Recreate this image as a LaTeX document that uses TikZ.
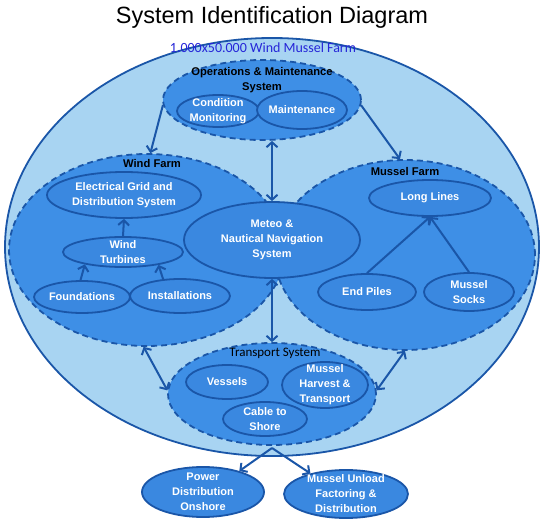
\documentclass[tikz,border=0pt]{standalone}
\usepackage{fontspec}
\setmainfont{Liberation Sans}
\newfontfamily\carl{Carlito}
\usetikzlibrary{shapes.geometric,arrows.meta}
\definecolor{outerfill}{HTML}{A8D4F2}
\definecolor{midfill}{HTML}{3E8FE6}
\definecolor{subfill}{HTML}{3A88E0}
\definecolor{edgeblue}{HTML}{1A56A8}
\definecolor{labelblue}{HTML}{2626D8}
\tikzset{
  container/.style={ellipse, draw=edgeblue, line width=1.8pt, dash pattern=on 6pt off 4pt, fill=midfill, inner sep=0pt},
  subell/.style={ellipse, draw=edgeblue, line width=1.8pt, fill=subfill, inner sep=0pt},
  lbl/.style={text=white, font=\fontsize{11}{15}\selectfont\bfseries, align=center, inner sep=0pt},
  hdr/.style={text=black, font=\fontsize{11.2}{15.5}\selectfont\bfseries, align=center, inner sep=0pt},
  arr/.style={draw=edgeblue, line width=2pt, -{Straight Barb[length=5pt,width=11pt]}},
  darr/.style={draw=edgeblue, line width=2pt, {Straight Barb[length=5pt,width=11pt]}-{Straight Barb[length=5pt,width=11pt]}},
}
\begin{document}
\begin{tikzpicture}[x=1pt,y=-1pt]
\useasboundingbox (0,0) rectangle (544,524);
\fill[white] (0,0) rectangle (544,524);
\node[font=\fontsize{23.5}{26}\selectfont, inner sep=0pt] (title) at (272,17) {System Identification Diagram};
% outer
\node[ellipse, draw=edgeblue, line width=1.8pt, fill=outerfill, minimum width=534pt, minimum height=418pt, inner sep=0pt] (outer) at (272,247) {};
\node[text=labelblue, font=\carl\fontsize{14}{16}\selectfont, inner sep=0pt] (farmlbl) at (263,48) {1.000x50.000 Wind Mussel Farm};
% containers
\node[container, minimum width=198pt, minimum height=80pt] (om) at (262,100) {};
\node[hdr] (omlbl) at (262,80) {Operations \& Maintenance\\System};
\node[container, minimum width=276pt, minimum height=192pt] (wf) at (147,250) {};
\node[hdr] (wflbl) at (152,163) {Wind Farm};
\node[container, minimum width=260pt, minimum height=190pt] (mf) at (405,255) {};
\node[hdr] (mflbl) at (405,171) {Mussel Farm};
\node[container, minimum width=208pt, minimum height=102pt] (tr) at (272,394) {};
\node[text=black, font=\carl\fontsize{13}{15}\selectfont, inner sep=0pt] (trlbl) at (275,353) {Transport System};
% O&M subs
\node[subell, minimum width=82pt, minimum height=32pt, label={[lbl]center:{Condition\\Monitoring}}] (cm) at (218,111) {};
\node[subell, minimum width=90pt, minimum height=38pt, label={[lbl]center:{Maintenance}}] (mt) at (302,110) {};
% Wind farm subs
\node[subell, minimum width=154pt, minimum height=46pt, label={[lbl]center:{Electrical Grid and\\Distribution System}}] (eg) at (124,195) {};
\node[subell, minimum width=120pt, minimum height=30pt, label={[lbl]center:{Wind\\Turbines}}] (wt) at (123,252) {};
\node[subell, minimum width=96pt, minimum height=32pt, label={[lbl]center:{Foundations}}] (fo) at (82,297) {};
\node[subell, minimum width=100pt, minimum height=34pt, label={[lbl]center:{Installations}}] (in) at (180,296) {};
% Mussel farm subs
\node[subell, minimum width=122pt, minimum height=36pt, label={[lbl]center:{Long Lines}}] (ll) at (430,198) {};
\node[subell, minimum width=98pt, minimum height=36pt, label={[lbl]center:{End Piles}}] (ep) at (367,292) {};
\node[subell, minimum width=90pt, minimum height=38pt, label={[lbl]center:{Mussel\\Socks}}] (ms) at (469,292) {};
% Meteo
\node[subell, minimum width=176pt, minimum height=76pt, label={[lbl]center:{Meteo \&\\Nautical Navigation\\System}}] (met) at (272,240) {};
% Transport subs
\node[subell, minimum width=82pt, minimum height=34pt, label={[lbl]center:{Vessels}}] (ve) at (227,382) {};
\node[subell, minimum width=86pt, minimum height=46pt, label={[lbl]center:{Mussel\\Harvest \&\\Transport}}] (mh) at (325,385) {};
\node[subell, minimum width=84pt, minimum height=34pt, label={[lbl]center:{Cable to\\Shore}}] (cs) at (265,419) {};
% Onshore
\node[subell, minimum width=122pt, minimum height=50pt, label={[lbl]center:{Power\\Distribution\\Onshore}}] (pd) at (203,492) {};
\node[subell, minimum width=124pt, minimum height=48pt, label={[lbl]center:{Mussel Unload\\Factoring \&\\Distribution}}] (mu) at (346,494) {};
% arrows
\draw[arr] (om.183) -- (wf.88);
\draw[arr] (om.357) -- (mf.93);
\draw[darr] (met.north) -- (met.north |- om.south);
\draw[darr] (met.south) -- (tr.north);
\draw[darr] (wf.268) -- (tr.178);
\draw[darr] (mf.270) -- (tr.2);
\draw[arr] (wt.north) -- (eg.south);
\draw[arr] (fo.95) -- (wt.198);
\draw[arr] (in.135) -- (wt.340);
\draw[arr] (ep.north) -- (ll.south);
\draw[arr] (ms.north) -- (ll.south);
\coordinate (split) at (272,448);
\draw[arr] (split) -- (pd.30);
\draw[arr] (split) -- (mu.150);
\end{tikzpicture}
\end{document}
